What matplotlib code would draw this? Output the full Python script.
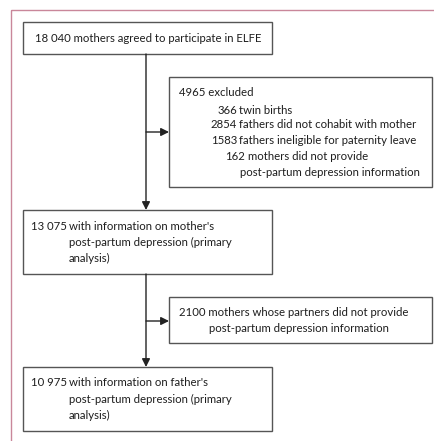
import matplotlib
matplotlib.use("Agg")
import matplotlib.pyplot as plt
from matplotlib.patches import Rectangle

# flow counts and labels
main_counts = ["18 040", "13 075", "10 975"]
main_labels = [
    ["mothers agreed to participate in ELFE"],
    ["with information on mother's", "post-partum depression (primary", "analysis)"],
    ["with information on father's", "post-partum depression (primary", "analysis)"],
]
excl1_total = "4965 excluded"
excl1_counts = ["366", "2854", "1583", "162"]
excl1_labels = [
    "twin births",
    "fathers did not cohabit with mother",
    "fathers ineligible for paternity leave",
    "mothers did not provide",
]
excl1_extra = "post-partum depression information"
excl2_lines = ["2100 mothers whose partners did not provide",
               "post-partum depression information"]

plt.rcParams['font.family'] = ['Lato', 'DejaVu Sans']
TXT = "#1e1e1e"
EDGE = "#555555"

fig = plt.figure(figsize=(4.34, 4.41), dpi=100)
ax = fig.add_axes([0, 0, 1, 1])
ax.set_xlim(0, 434)
ax.set_ylim(441, 0)
ax.axis("off")

# pick a font size so the first line is about as wide as in the reference
probe = ax.text(0, 0, main_counts[0] + " " + main_labels[0][0], fontsize=10)
w = probe.get_window_extent(renderer=fig.canvas.get_renderer()).width
probe.remove()
FS = 10 * 228 / w

# outer pink frame
ax.add_patch(Rectangle((11, 10), 440, 450, fill=False, ec="#c9879a", lw=1.0))


def box(x0, y0, x1, y1):
    ax.add_patch(Rectangle((x0, y0), x1 - x0, y1 - y0, fill=False, ec=EDGE, lw=1.0))


def arrow(x0, y0, x1, y1):
    ax.annotate("", xy=(x1, y1), xytext=(x0, y0),
                arrowprops=dict(arrowstyle="-|>", color="#222222", lw=1.0,
                                mutation_scale=12, shrinkA=0, shrinkB=0))


# main boxes
box(23, 22, 272, 54)
box(23, 210, 272, 274)
box(23, 367, 272, 431)
# exclusion boxes
box(169, 77, 432, 187)
box(169, 297, 432, 343)

# connectors
arrow(146, 54, 146, 210)
arrow(146, 132, 169, 132)
arrow(146, 274, 146, 367)
arrow(146, 321, 169, 321)

# box 1 text
ax.text(35, 38, main_counts[0] + " " + main_labels[0][0], fontsize=FS, color=TXT,
        va="center", ha="left")

# box 2 and 3 text
for cnt, lines, ytop in [(main_counts[1], main_labels[1], 226),
                          (main_counts[2], main_labels[2], 383)]:
    ax.text(67, ytop, cnt, fontsize=FS, color=TXT, va="center", ha="right")
    for i, ln in enumerate(lines):
        ax.text(69, ytop + i * 16, ln, fontsize=FS, color=TXT, va="center", ha="left")

# exclusion 1 text
ax.text(179, 93, excl1_total, fontsize=FS, color=TXT, va="center", ha="left")
ys = [110, 125, 141, 157]
num_right = [237, 237, 237, 245]
lab_left = [239, 239, 239, 248]
for c, l, y, xr, xl in zip(excl1_counts, excl1_labels, ys, num_right, lab_left):
    ax.text(xr, y, c, fontsize=FS, color=TXT, va="center", ha="right")
    ax.text(xl, y, l, fontsize=FS, color=TXT, va="center", ha="left")
ax.text(240, 172, excl1_extra, fontsize=FS, color=TXT, va="center", ha="left")

# exclusion 2 text
ax.text(179, 313, excl2_lines[0], fontsize=FS, color=TXT, va="center", ha="left")
ax.text(209, 329, excl2_lines[1], fontsize=FS, color=TXT, va="center", ha="left")

fig.savefig("out.png", dpi=100, facecolor="white")
